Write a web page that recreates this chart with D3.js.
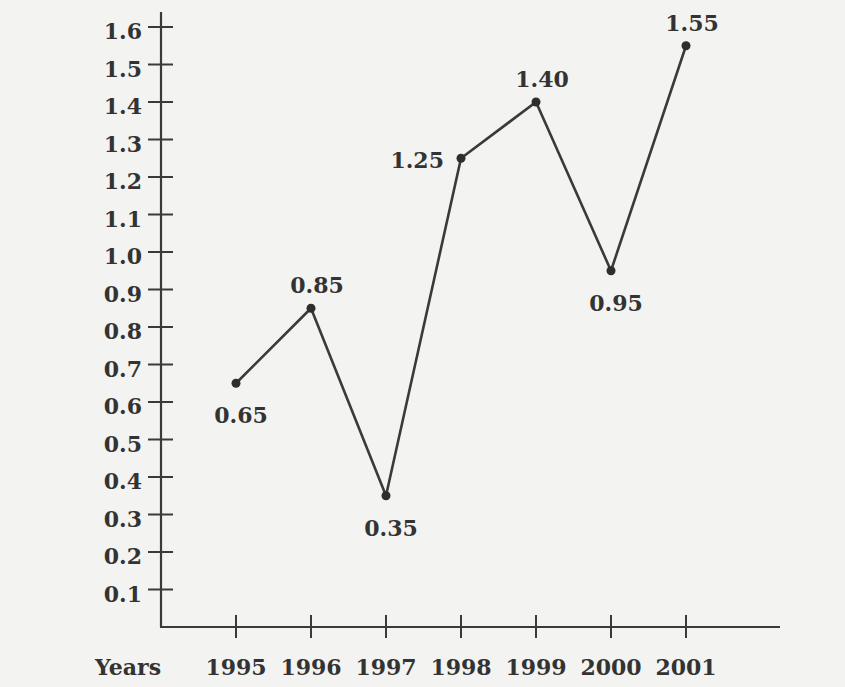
<!DOCTYPE html>
<html>
<head>
<meta charset="utf-8">
<script src="https://cdn.jsdelivr.net/npm/d3@7"></script>
<style>
  body { margin: 0; background: #f3f3f1; }
  svg text { font-family: "DejaVu Serif", serif; font-weight: bold; fill: #333; }
</style>
</head>
<body>
<script>
const width = 845, height = 687;

// data
const years = [1995, 1996, 1997, 1998, 1999, 2000, 2001];
const values = [0.65, 0.85, 0.35, 1.25, 1.40, 0.95, 1.55];
const labels = ["0.65", "0.85", "0.35", "1.25", "1.40", "0.95", "1.55"];
const yTicks = [0.1, 0.2, 0.3, 0.4, 0.5, 0.6, 0.7, 0.8, 0.9, 1.0, 1.1, 1.2, 1.3, 1.4, 1.5, 1.6];
// where each value label sits relative to its point
const labelPos = ["below", "above", "below", "left", "above", "below", "above"];

const data = years.map((y, i) => ({year: y, value: values[i], label: labels[i], pos: labelPos[i]}));

const x = d3.scaleLinear().domain([1994, 2001]).range([161, 686]);
const y = d3.scaleLinear().domain([0, 1.6]).range([627, 27]);

const svg = d3.select("body").append("svg")
    .attr("width", width)
    .attr("height", height);

const ink = "#3a3a3a";

// y axis: long line with crossing ticks
svg.append("line")
    .attr("x1", x(1994)).attr("x2", x(1994))
    .attr("y1", 12).attr("y2", y(0))
    .attr("stroke", ink).attr("stroke-width", 2.2);

const yt = svg.append("g").selectAll("g")
    .data(yTicks).join("g")
    .attr("transform", d => `translate(0,${y(d)})`);
yt.append("line")
    .attr("x1", x(1994) - 13).attr("x2", x(1994) + 12)
    .attr("stroke", ink).attr("stroke-width", 2);
yt.append("text")
    .attr("x", 142).attr("y", 12)
    .attr("text-anchor", "end")
    .style("font-size", "22px")
    .text(d => d.toFixed(1));

// x axis
svg.append("line")
    .attr("x1", x(1994) - 1).attr("x2", 780)
    .attr("y1", y(0)).attr("y2", y(0))
    .attr("stroke", ink).attr("stroke-width", 2.2);

const xt = svg.append("g").selectAll("g")
    .data(years).join("g")
    .attr("transform", d => `translate(${x(d)},${y(0)})`);
xt.append("line")
    .attr("y1", -12).attr("y2", 11)
    .attr("stroke", ink).attr("stroke-width", 2);
xt.append("text")
    .attr("y", 48)
    .attr("text-anchor", "middle")
    .style("font-size", "22px")
    .text(d => d);

svg.append("text")
    .attr("x", 95).attr("y", y(0) + 48)
    .style("font-size", "22px")
    .text("Years");

// the line
const line = d3.line()
    .x(d => x(d.year))
    .y(d => y(d.value));

svg.append("path")
    .datum(data)
    .attr("fill", "none")
    .attr("stroke", ink)
    .attr("stroke-width", 2.6)
    .attr("stroke-linejoin", "round")
    .attr("d", line);

svg.append("g").selectAll("circle")
    .data(data).join("circle")
    .attr("cx", d => x(d.year))
    .attr("cy", d => y(d.value))
    .attr("r", 4.5)
    .attr("fill", "#2e2e2e");

// value labels
svg.append("g").selectAll("text")
    .data(data).join("text")
    .style("font-size", "22px")
    .attr("text-anchor", d => d.pos == "left" ? "end" : "middle")
    .attr("x", d => {
        if (d.pos == "left") return x(d.year) - 17;
        if (d.pos == "above") return x(d.year) + 6;
        return x(d.year) + 5;
    })
    .attr("y", d => {
        if (d.pos == "left") return y(d.value) + 10;
        if (d.pos == "above") return y(d.value) - 15;
        return y(d.value) + 40;
    })
    .text(d => d.label);
</script>
</body>
</html>
